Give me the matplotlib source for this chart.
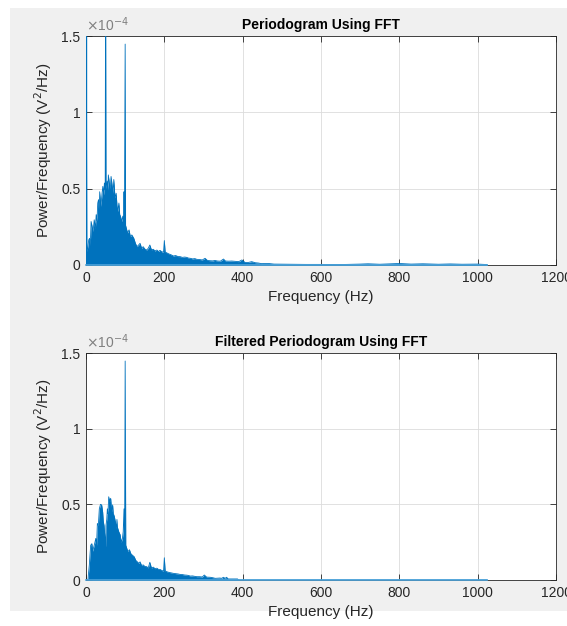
import matplotlib
matplotlib.use("Agg")
import matplotlib.pyplot as plt
from matplotlib.patches import Rectangle
from matplotlib.ticker import FuncFormatter
import numpy as np

plt.rcParams['font.family'] = ['Liberation Sans', 'DejaVu Sans']

# Periodogram of the raw signal (frequency in Hz, PSD in units of 1e-5 V^2/Hz)
freq_raw = [0, 2, 4, 7, 9, 11, 13, 15, 18, 21, 24, 26, 28, 30, 32, 34, 35, 38, 41, 43,
            45, 47, 49, 50, 51, 54, 56, 57, 60, 62, 64, 67, 69, 71, 74, 77, 79, 81, 84,
            86, 88, 91, 94, 96, 97, 98, 100, 101, 103, 106, 110, 113, 117, 122, 126, 130,
            134, 138, 142, 146, 150, 155, 159, 163, 167, 172, 176, 181, 185, 189, 194,
            198, 200, 202, 206, 212, 218, 223, 229, 235, 240, 246, 252, 257, 262, 266,
            272, 278, 283, 290, 297, 304, 310, 317, 324, 329, 336, 343, 351, 356, 364,
            372, 380, 390, 398, 406, 415, 423, 432, 440, 448, 466, 480, 520, 560, 600,
            650, 700, 720, 750, 780, 800, 830, 860, 900, 930, 960, 1000, 1024]
psd_raw = [26, 0.9, 1.1, 1.64, 1.75, 1.3, 2.85, 2.6, 2.2, 2.96, 2.4, 3.3, 2.9, 4.06, 4.28,
           3.7, 4.8, 3.84, 4.7, 5.15, 4.6, 5.37, 4.9, 19, 5.0, 5.5, 4.9, 5.9, 5.26, 5.0,
           5.8, 5.15, 4.7, 5.6, 4.4, 4.7, 3.9, 3.5, 4.06, 3.3, 3.2, 2.85, 3.2, 2.8, 4.8,
           2.6, 14.47, 2.6, 2.4, 2.1, 2.3, 1.86, 1.97, 1.75, 1.43, 1.2, 1.3, 1.42, 1.1,
           1.2, 1.05, 0.98, 1.1, 1.31, 1.0, 1.03, 0.92, 0.98, 0.88, 0.96, 0.85, 0.87, 1.6,
           0.85, 0.8, 0.72, 0.66, 0.59, 0.62, 0.55, 0.55, 0.5, 0.52, 0.5, 0.45, 0.44, 0.4,
           0.42, 0.37, 0.36, 0.33, 0.44, 0.3, 0.28, 0.27, 0.3, 0.26, 0.25, 0.39, 0.26,
           0.25, 0.26, 0.24, 0.22, 0.33, 0.17, 0.17, 0.22, 0.15, 0.13, 0.09, 0.1, 0.06,
           0.05, 0.04, 0.04, 0.03, 0.06, 0.08, 0.05, 0.08, 0.1, 0.06, 0.08, 0.05, 0.07,
           0.05, 0.06, 0.03]

# Periodogram after filtering
freq_filt = [0, 5, 6, 8.5, 10, 12, 15, 17, 19, 22, 25, 27, 29, 31.5, 34, 37, 40, 42.5,
             44, 46, 48.5, 50, 51, 53, 54.5, 56, 58, 60.5, 63, 65.5, 68, 70, 71.5, 75,
             77.5, 79, 80, 83.5, 87, 90, 93, 95, 97, 98.5, 100, 101.5, 104, 107, 111, 114,
             118, 123, 127, 131, 135, 138, 142, 146, 150, 155, 159, 163, 167, 172, 176,
             181, 185, 189, 194, 198, 200, 202, 206, 212, 218, 223, 229, 235, 240, 246,
             252, 257, 262, 266, 272, 278, 283, 290, 297, 302, 308, 317, 324, 330, 342,
             346, 351, 355, 359, 363, 375, 387, 389, 1024]
psd_filt = [0, 0, 0.33, 1.0, 1.6, 2.3, 2.4, 1.9, 2.1, 2.4, 2.75, 2.3, 3.74, 3.6, 4.7, 5.0,
            4.96, 4.5, 3.9, 3.6, 2.75, 2.2, 3.6, 4.0, 4.7, 4.4, 5.5, 5.2, 5.4, 4.5, 4.96,
            4.2, 4.3, 3.85, 3.4, 4.0, 3.5, 3.2, 3.0, 2.5, 2.75, 3.2, 4.7, 2.5, 14.47, 2.3,
            2.1, 1.87, 2.0, 1.76, 1.65, 1.54, 1.3, 1.2, 1.1, 1.2, 0.95, 1.0, 0.9, 0.88,
            0.8, 1.17, 0.8, 0.85, 0.75, 0.78, 0.7, 0.7, 0.62, 0.6, 1.47, 0.6, 0.55, 0.5,
            0.47, 0.44, 0.42, 0.4, 0.37, 0.36, 0.33, 0.32, 0.3, 0.26, 0.27, 0.24, 0.22,
            0.22, 0.2, 0.33, 0.19, 0.18, 0.15, 0.11, 0.13, 0.11, 0.18, 0.11, 0.18, 0.07,
            0.07, 0.07, 0.0, 0.0]

titles = ["Periodogram Using FFT", "Filtered Periodogram Using FFT"]
xlabel = "Frequency (Hz)"
ylabel = "Power/Frequency (V$^2$/Hz)"
xticks = [0, 200, 400, 600, 800, 1000, 1200]
yticks = [0, 0.5e-4, 1e-4, 1.5e-4]

LINE = "#0072BD"
TXT = "#262626"
W, H = 567, 626

fig = plt.figure(figsize=(W / 100, H / 100), dpi=100, facecolor="white")
fig.patches.append(Rectangle((10 / W, 1 - 611 / H), 1 - 10 / W, (611 - 8) / H,
                             transform=fig.transFigure, facecolor="#f0f0f0",
                             edgecolor="none", zorder=-10))

axes_px = [(86, 36, 556, 265), (86, 353, 556, 580)]
series = [(freq_raw, psd_raw), (freq_filt, psd_filt)]

fmt = FuncFormatter(lambda v, p: ("%g" % round(v / 1e-4, 3)))

for (x0, y0, x1, y1), (f, p), title in zip(axes_px, series, titles):
    ax = fig.add_axes([x0 / W, 1 - y1 / H, (x1 - x0) / W, (y1 - y0) / H])
    ax.set_zorder(1)
    f = np.asarray(f, dtype=float)
    p = np.asarray(p, dtype=float) * 1e-5
    ax.fill_between(f, 0, p, color=LINE, linewidth=0, zorder=2)
    ax.plot(f, p, color=LINE, lw=0.6, zorder=3)
    # DC bin drawn along the left edge, and the trace along the axis floor
    ax.plot([f[0], f[0]], [0, p[0]], color=LINE, lw=1.0, zorder=4, clip_on=True)
    ax.plot([f[0], f[-1]], [0, 0], color="#4DA3DA", lw=1.2, zorder=4, clip_on=False)

    ax.set_xlim(0, 1200)
    ax.set_ylim(0, 1.5e-4)
    ax.set_xticks(xticks)
    ax.set_yticks(yticks)
    ax.yaxis.set_major_formatter(fmt)
    ax.grid(True, color="#dcdcdc", lw=0.6, zorder=1)
    ax.set_axisbelow(True)
    ax.tick_params(direction="in", length=4, width=0.6, colors=TXT, labelsize=10,
                   top=True, right=True, pad=4)
    for s in ax.spines.values():
        s.set_color(TXT)
        s.set_linewidth(0.6)
        s.set_zorder(1.5)
    ax.set_title(title, fontsize=10, fontweight="bold", color="black", pad=5)
    ax.set_xlabel(xlabel, fontsize=11, color=TXT, labelpad=4)
    ax.set_ylabel(ylabel, fontsize=11, color=TXT, labelpad=5)
    ax.text(0.0, 1.008, r"$\times$10$^{-4}$", transform=ax.transAxes, fontsize=10,
            color="#808080", ha="left", va="bottom")

fig.savefig("out.png", dpi=100, facecolor=fig.get_facecolor())
